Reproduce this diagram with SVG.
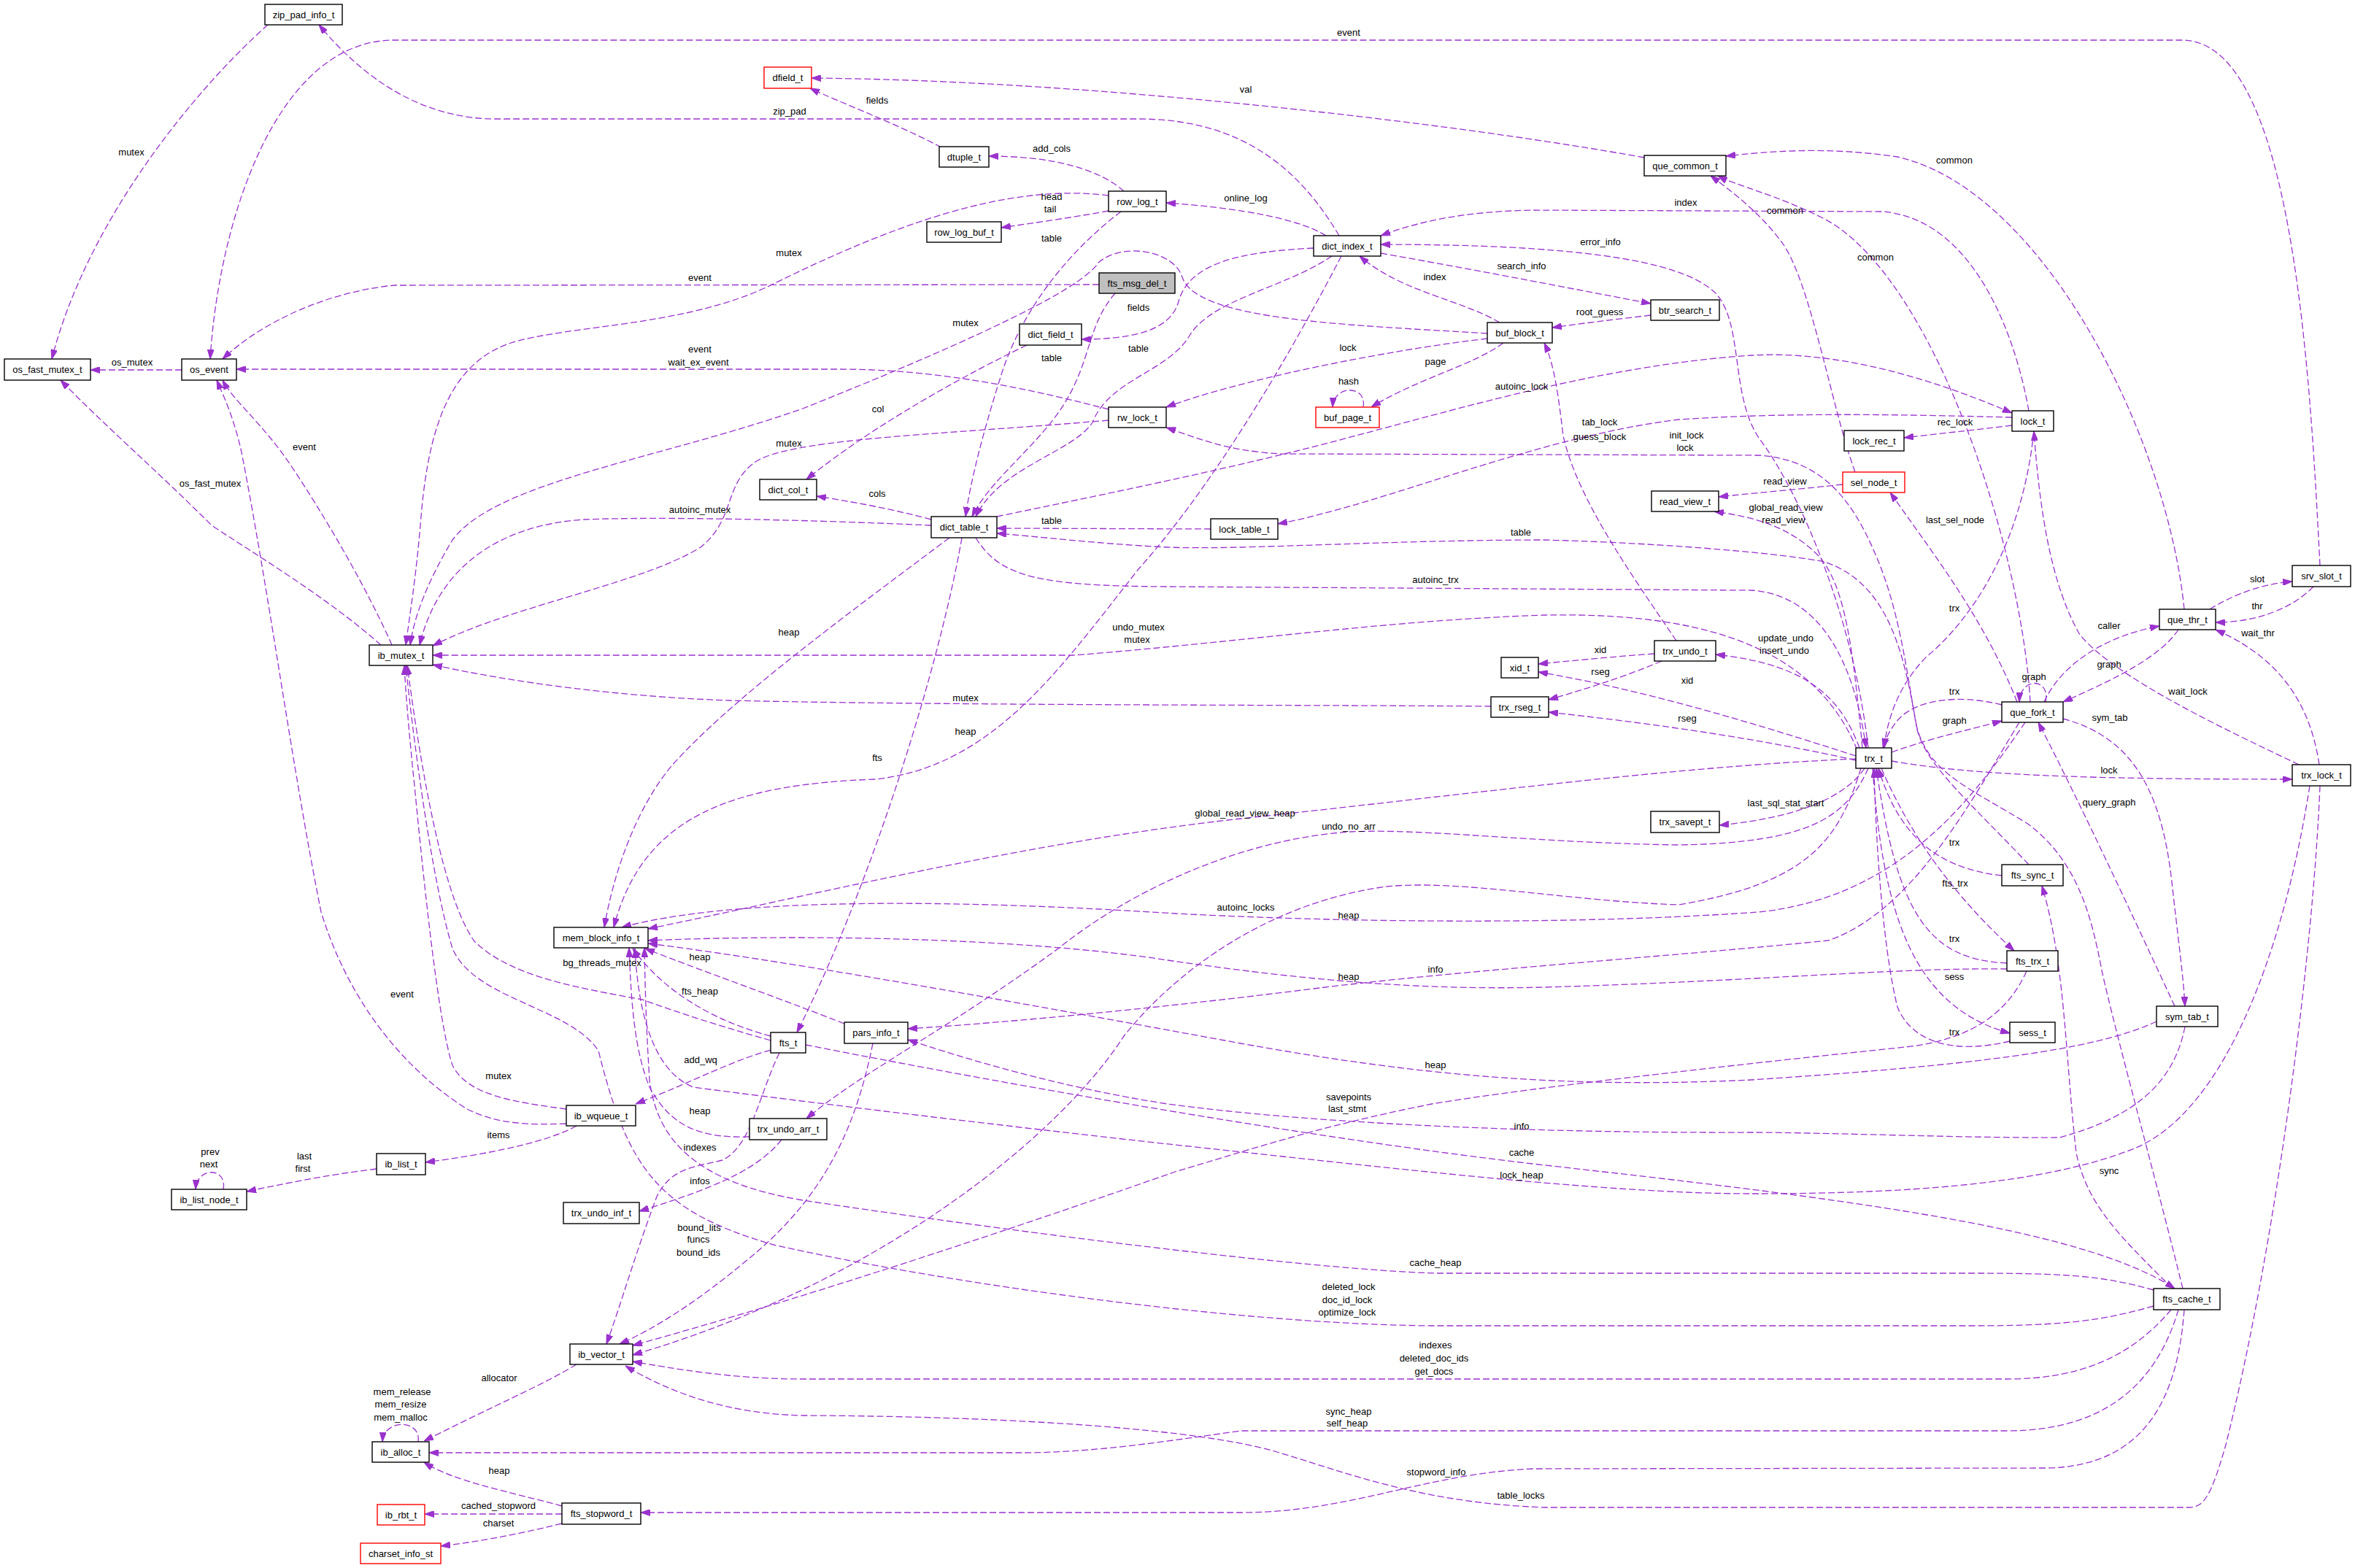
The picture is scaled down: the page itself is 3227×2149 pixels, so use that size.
<svg xmlns="http://www.w3.org/2000/svg" width="3227" height="2149" viewBox="0 0 3227 2149">
<style>
.n rect{fill:#fff;stroke:#000;stroke-width:1.4}
.r rect{fill:#fff;stroke:#ff0000;stroke-width:1.4}
.g rect{fill:#bfbfbf;stroke:#000;stroke-width:1.4}
text{font-family:"Liberation Sans",Arial,sans-serif;font-size:13px;text-anchor:middle;fill:#000}
.e path{fill:none;stroke:#9a32cd;stroke-width:1.3;stroke-dasharray:9,4;marker-end:url(#a)}
</style>
<defs>
<marker id="a" viewBox="0 0 13 9" refX="13" refY="4.5" markerWidth="13" markerHeight="9" markerUnits="userSpaceOnUse" orient="auto"><path d="M0,0 L13,4.5 L0,9 z" fill="#9a32cd" stroke="#9a32cd" stroke-width="1"/></marker>
</defs>
<rect width="3227" height="2149" fill="#fff"/>
<g id="connectors" class="e">
<path d="M367,34 C270,120 120,300 71,492"/>
<path d="M3179,775 C3165,500 3140,55 2990,55 L540,55 C380,55 300,300 288,492"/>
<path d="M1835,323 C1780,230 1700,163 1560,163 L680,163 C580,163 500,110 437,34"/>
<path d="M2253,216 C2000,170 1500,110 1112,107"/>
<path d="M1290,202 C1230,170 1150,140 1110,121"/>
<path d="M1540,262 C1510,235 1450,214 1355,214"/>
<path d="M1519,289 C1470,298 1420,305 1372,312"/>
<path d="M1536,290 C1470,340 1400,420 1370,520 C1345,600 1330,660 1323,708"/>
<path d="M1519,268 C1380,250 1220,310 1058,390 C940,448 780,445 700,470 C610,500 585,600 576,720 C570,790 562,840 556,884"/>
<path d="M1817,323 C1780,300 1700,285 1598,278"/>
<path d="M1506,390 L540,391 C450,400 360,440 305,492"/>
<path d="M2038,457 C1850,445 1640,440 1620,380 C1610,345 1540,330 1505,360 C1480,400 1300,480 1100,560 C900,630 680,660 620,740 C590,790 568,840 562,884"/>
<path d="M1800,340 C1700,345 1630,360 1615,413 C1605,450 1560,465 1482,465"/>
<path d="M1528,402 C1495,440 1495,480 1472,528 C1440,600 1360,650 1332,708"/>
<path d="M1825,351 C1760,395 1660,410 1630,460 C1600,510 1520,520 1497,579 C1470,620 1370,640 1337,708"/>
<path d="M1519,561 C1400,530 1280,506 1150,506 L324,506"/>
<path d="M1407,473 C1330,510 1200,580 1105,657"/>
<path d="M1519,576 C1300,595 1100,600 1040,630 C990,660 1010,710 960,750 C880,800 700,830 593,885"/>
<path d="M1276,712 C1220,697 1170,688 1119,680"/>
<path d="M1276,720 C1100,712 900,708 800,712 C680,720 600,780 575,884"/>
<path d="M1659,725 L1366,724"/>
<path d="M2780,563 C2760,450 2700,300 2580,290 L2100,288 C2000,290 1940,305 1892,323"/>
<path d="M2560,1025 C2540,850 2470,680 2410,600 C2370,540 2390,440 2349,400 C2300,355 2150,335 1892,335"/>
<path d="M1892,347 C2050,375 2150,395 2262,416"/>
<path d="M2055,442 C2000,410 1920,400 1863,351"/>
<path d="M2262,432 C2210,438 2170,443 2127,449"/>
<path d="M2038,464 C1900,480 1700,520 1598,558"/>
<path d="M2060,470 C2020,500 1940,520 1879,558"/>
<path d="M1868,558 C1874,528 1828,526 1826,558"/>
<path d="M1366,708 C1500,680 1700,640 1858,597 C2000,560 2200,500 2400,487 C2520,480 2650,520 2757,566"/>
<path d="M2757,572 C2600,568 2450,565 2300,575 C2100,600 1900,690 1751,718"/>
<path d="M2757,583 C2700,590 2650,595 2609,600"/>
<path d="M2297,878 C2230,780 2160,680 2142,597 C2135,540 2130,500 2116,470"/>
<path d="M2991,1766 C2950,1600 2900,1420 2880,1330 C2865,1250 2845,1180 2780,1130 C2700,1080 2640,1060 2625,990 C2610,900 2600,830 2570,760 C2540,690 2500,630 2410,624 L1755,622 C1680,618 1640,600 1598,586"/>
<path d="M2525,664 C2450,672 2400,676 2355,681"/>
<path d="M2552,1025 C2540,900 2530,800 2490,760 C2450,720 2400,708 2349,701"/>
<path d="M2764,962 C2720,850 2650,760 2590,675"/>
<path d="M2993,835 C2970,600 2800,260 2600,215 C2500,200 2420,208 2365,214"/>
<path d="M2782,962 C2770,750 2650,380 2500,300 C2430,265 2380,255 2354,241"/>
<path d="M2542,647 C2510,560 2480,380 2440,330 C2410,290 2370,260 2344,241"/>
<path d="M2787,591 C2770,750 2700,850 2640,900 C2600,940 2585,990 2582,1025"/>
<path d="M2743,966 C2680,950 2620,960 2598,990 C2590,1000 2584,1012 2580,1025"/>
<path d="M2592,1031 C2650,1010 2700,1000 2743,988"/>
<path d="M2803,962 C2810,928 2768,928 2767,962"/>
<path d="M2801,962 C2820,920 2870,875 2959,858"/>
<path d="M2985,863 C2960,900 2900,930 2827,962"/>
<path d="M3028,835 C3060,815 3100,800 3141,797"/>
<path d="M3170,804 C3140,835 3090,853 3036,853"/>
<path d="M3178,1048 C3165,960 3120,900 3036,863"/>
<path d="M3150,1048 C3050,1000 2900,930 2850,870 C2810,800 2795,700 2787,591"/>
<path d="M2592,1043 C2700,1062 2850,1068 3141,1068"/>
<path d="M2827,985 C2920,1010 2960,1080 2975,1200 C2985,1290 2992,1340 2994,1379"/>
<path d="M2980,1379 C2920,1250 2850,1100 2793,990"/>
<path d="M2543,1036 C2400,990 2250,945 2108,921"/>
<path d="M2267,896 C2210,900 2160,905 2108,910"/>
<path d="M2277,906 C2220,930 2170,945 2122,959"/>
<path d="M2543,1042 C2400,1010 2250,990 2122,976"/>
<path d="M2043,968 C1800,966 1300,967 1000,960 C850,955 700,935 593,911"/>
<path d="M2545,1028 C2480,870 2300,840 2117,843 C1900,850 1700,880 1472,898 L593,898"/>
<path d="M2548,1025 C2520,950 2470,910 2351,897"/>
<path d="M2555,1053 C2530,1090 2470,1120 2356,1131"/>
<path d="M2543,1040 C2300,1050 2000,1090 1700,1122 C1400,1155 1100,1230 888,1273"/>
<path d="M2560,1053 C2530,1120 2480,1155 2300,1158 C2100,1155 1950,1135 1850,1140 C1700,1150 1550,1220 1450,1300 C1300,1410 1180,1470 1105,1533"/>
<path d="M1337,737 C1370,790 1420,803 1600,804 L2400,809 C2490,815 2540,900 2557,1025"/>
<path d="M2743,1200 C2650,1190 2600,1140 2574,1053"/>
<path d="M2750,1320 C2640,1315 2600,1250 2571,1053"/>
<path d="M2578,1053 C2620,1150 2680,1230 2760,1303"/>
<path d="M2566,1053 C2580,1250 2620,1380 2754,1416"/>
<path d="M2754,1427 C2680,1445 2620,1430 2600,1380 C2580,1300 2570,1150 2568,1053"/>
<path d="M1104,1432 C1400,1490 1800,1560 2100,1595 C2500,1640 2850,1680 2980,1766"/>
<path d="M2977,1766 C2900,1690 2860,1650 2845,1580 C2830,1450 2830,1320 2798,1214"/>
<path d="M2951,1768 C2880,1748 2830,1745 2700,1745 L1967,1745 C1800,1740 1400,1690 1100,1645 C950,1620 900,1560 890,1480 C885,1400 884,1350 883,1299"/>
<path d="M2951,1790 C2880,1810 2830,1817 2700,1817 L1962,1817 C1700,1815 1300,1760 1060,1706 C900,1660 860,1600 820,1440 C780,1380 650,1370 620,1300 C590,1200 565,1000 556,912"/>
<path d="M2975,1795 C2920,1860 2850,1890 2750,1890 L1100,1890 C1000,1890 920,1875 867,1866"/>
<path d="M2985,1795 C2960,1880 2900,1961 2750,1961 L1700,1961 C1600,1975 1500,1991 1400,1991 L588,1991"/>
<path d="M2993,1795 C2985,1900 2950,2012 2800,2012 L2100,2013 C1950,2020 1850,2073 1700,2073 L878,2073"/>
<path d="M3179,1077 C3170,1300 3120,1700 3050,1980 C3030,2050 3020,2066 3000,2066 L2117,2066 C1950,2060 1850,2020 1750,1990 C1650,1960 1400,1941 1100,1940 C1000,1938 920,1910 857,1872"/>
<path d="M3165,1077 C3130,1300 3050,1520 2927,1573 C2800,1625 2600,1636 2400,1636 C2200,1636 1900,1600 1610,1569 C1400,1546 1100,1510 950,1490 C900,1470 875,1400 870,1300"/>
<path d="M2955,1400 C2870,1440 2700,1460 2400,1480 C2150,1492 1950,1475 1700,1430 C1400,1375 1100,1320 888,1293"/>
<path d="M2994,1407 C2980,1480 2930,1530 2822,1559 C2700,1560 2500,1552 2400,1552 C2100,1553 1800,1540 1600,1513 C1450,1490 1320,1450 1244,1425"/>
<path d="M2767,990 C2700,1100 2620,1250 2505,1289 C2300,1310 2000,1330 1800,1355 C1600,1380 1400,1400 1244,1410"/>
<path d="M2775,990 C2700,1100 2600,1230 2410,1250 C2200,1265 1900,1267 1610,1252 C1300,1232 1000,1230 852,1271"/>
<path d="M2550,1053 C2520,1150 2480,1210 2300,1240 C2150,1235 2000,1205 1900,1215 C1750,1235 1620,1320 1540,1420 C1450,1560 1200,1760 867,1857"/>
<path d="M2750,1328 C2600,1326 2400,1345 2117,1353 C1950,1357 1800,1345 1600,1316 C1400,1285 1100,1280 888,1289"/>
<path d="M2777,1331 C2750,1390 2700,1425 2611,1435 C2400,1457 2100,1490 1962,1513 C1800,1545 1700,1580 1610,1606 C1400,1680 1100,1780 867,1844"/>
<path d="M2780,1185 C2700,1100 2640,1050 2627,1000 C2610,900 2590,800 2500,770 C2450,760 2300,745 2117,740 C1900,740 1700,754 1600,750 C1500,745 1420,735 1366,731"/>
<path d="M1056,1439 C1000,1455 955,1480 871,1513"/>
<path d="M790,1543 C760,1560 697,1578 583,1593"/>
<path d="M776,1520 C700,1510 640,1500 620,1460 C600,1400 580,1200 568,1077 C560,1000 556,950 554,912"/>
<path d="M776,1540 C720,1542 680,1540 640,1520 C560,1470 480,1380 440,1250 C400,1050 370,820 331,620 C320,570 305,540 297,521"/>
<path d="M516,1602 C450,1610 400,1620 338,1633"/>
<path d="M306,1630 C312,1600 270,1598 268,1630"/>
<path d="M1071,1562 C1040,1600 990,1625 876,1660"/>
<path d="M1027,1558 C960,1560 920,1545 890,1490 C870,1440 865,1380 862,1299"/>
<path d="M1068,1443 C1040,1500 1030,1570 990,1590 C950,1600 920,1600 900,1640 C870,1720 850,1790 831,1842"/>
<path d="M1196,1430 C1170,1560 1120,1650 1020,1730 C960,1780 900,1820 849,1842"/>
<path d="M1157,1403 C1060,1365 960,1330 884,1300"/>
<path d="M1056,1420 C980,1400 910,1360 867,1300"/>
<path d="M1056,1426 C1000,1410 950,1395 880,1370 C800,1355 700,1340 650,1290 C600,1220 570,1000 558,912"/>
<path d="M1318,737 C1290,900 1200,1200 1092,1415"/>
<path d="M1301,737 C1150,850 1000,960 920,1050 C870,1110 840,1200 828,1271"/>
<path d="M1838,351 C1750,520 1650,680 1560,780 C1450,920 1360,1050 1200,1068 C1000,1075 880,1120 841,1271"/>
<path d="M790,1870 C740,1900 680,1925 581,1975"/>
<path d="M573,1976 C578,1945 526,1944 524,1976"/>
<path d="M770,2064 C700,2045 620,2030 581,2004"/>
<path d="M770,2075 L582,2075"/>
<path d="M770,2088 C700,2105 660,2112 604,2119"/>
<path d="M522,884 C450,820 350,760 290,720 C220,650 140,580 83,521"/>
<path d="M537,884 C500,800 440,700 400,640 C360,580 320,550 305,521"/>
<path d="M249,507 L124,507"/>
</g>
<g id="labels">
<text x="180" y="213">mutex</text>
<text x="1848" y="49">event</text>
<text x="1082" y="157">zip_pad</text>
<text x="1707" y="127">val</text>
<text x="1202" y="142">fields</text>
<text x="1441" y="208">add_cols</text>
<text x="1441" y="274">head</text>
<text x="1439" y="291">tail</text>
<text x="1441" y="331">table</text>
<text x="1081" y="351">mutex</text>
<text x="1707" y="276">online_log</text>
<text x="959" y="385">event</text>
<text x="1323" y="447">mutex</text>
<text x="1560" y="426">fields</text>
<text x="1441" y="495">table</text>
<text x="1560" y="482">table</text>
<text x="959" y="483">event</text>
<text x="957" y="501">wait_ex_event</text>
<text x="1203" y="565">col</text>
<text x="1081" y="612">mutex</text>
<text x="1202" y="681">cols</text>
<text x="959" y="703">autoinc_mutex</text>
<text x="1441" y="718">table</text>
<text x="2310" y="282">index</text>
<text x="2193" y="336">error_info</text>
<text x="2085" y="369">search_info</text>
<text x="1966" y="384">index</text>
<text x="2192" y="432">root_guess</text>
<text x="1847" y="481">lock</text>
<text x="1967" y="500">page</text>
<text x="1848" y="527">hash</text>
<text x="2085" y="534">autoinc_lock</text>
<text x="2192" y="583">tab_lock</text>
<text x="2679" y="583">rec_lock</text>
<text x="2192" y="603">guess_block</text>
<text x="2311" y="601">init_lock</text>
<text x="2309" y="618">lock</text>
<text x="2446" y="664">read_view</text>
<text x="2447" y="700">global_read_view</text>
<text x="2444" y="717">read_view</text>
<text x="2679" y="717">last_sel_node</text>
<text x="2678" y="224">common</text>
<text x="2570" y="357">common</text>
<text x="2446" y="293">common</text>
<text x="2678" y="838">trx</text>
<text x="2678" y="952">trx</text>
<text x="2678" y="992">graph</text>
<text x="2787" y="932">graph</text>
<text x="2890" y="862">caller</text>
<text x="2890" y="915">graph</text>
<text x="3093" y="798">slot</text>
<text x="3093" y="835">thr</text>
<text x="3094" y="872">wait_thr</text>
<text x="2998" y="952">wait_lock</text>
<text x="2890" y="1060">lock</text>
<text x="2891" y="988">sym_tab</text>
<text x="2890" y="1104">query_graph</text>
<text x="2312" y="937">xid</text>
<text x="2193" y="895">xid</text>
<text x="2193" y="925">rseg</text>
<text x="2312" y="989">rseg</text>
<text x="1323" y="961">mutex</text>
<text x="1560" y="864">undo_mutex</text>
<text x="1558" y="881">mutex</text>
<text x="2447" y="879">update_undo</text>
<text x="2445" y="896">insert_undo</text>
<text x="2447" y="1105">last_sql_stat_start</text>
<text x="1706" y="1119">global_read_view_heap</text>
<text x="1848" y="1137">undo_no_arr</text>
<text x="1967" y="799">autoinc_trx</text>
<text x="2678" y="1159">trx</text>
<text x="2678" y="1291">trx</text>
<text x="2679" y="1215">fts_trx</text>
<text x="2678" y="1343">sess</text>
<text x="2678" y="1419">trx</text>
<text x="2085" y="1584">cache</text>
<text x="2890" y="1609">sync</text>
<text x="1967" y="1735">cache_heap</text>
<text x="1848" y="1768">deleted_lock</text>
<text x="1846" y="1786">doc_id_lock</text>
<text x="1846" y="1803">optimize_lock</text>
<text x="1967" y="1848">indexes</text>
<text x="1965" y="1866">deleted_doc_ids</text>
<text x="1965" y="1884">get_docs</text>
<text x="1848" y="1939">sync_heap</text>
<text x="1846" y="1955">self_heap</text>
<text x="1968" y="2022">stopword_info</text>
<text x="2084" y="2054">table_locks</text>
<text x="2085" y="1615">lock_heap</text>
<text x="1967" y="1464">heap</text>
<text x="2085" y="1548">info</text>
<text x="1967" y="1333">info</text>
<text x="1848" y="1259">heap</text>
<text x="1707" y="1248">autoinc_locks</text>
<text x="1848" y="1343">heap</text>
<text x="1848" y="1508">savepoints</text>
<text x="1846" y="1524">last_stmt</text>
<text x="2084" y="734">table</text>
<text x="960" y="1457">add_wq</text>
<text x="683" y="1560">items</text>
<text x="683" y="1479">mutex</text>
<text x="551" y="1367">event</text>
<text x="417" y="1589">last</text>
<text x="415" y="1606">first</text>
<text x="288" y="1583">prev</text>
<text x="286" y="1600">next</text>
<text x="959" y="1623">infos</text>
<text x="959" y="1527">heap</text>
<text x="959" y="1577">indexes</text>
<text x="958" y="1687">bound_lits</text>
<text x="957" y="1703">funcs</text>
<text x="957" y="1721">bound_ids</text>
<text x="959" y="1316">heap</text>
<text x="959" y="1363">fts_heap</text>
<text x="825" y="1324">bg_threads_mutex</text>
<text x="1202" y="1043">fts</text>
<text x="1081" y="871">heap</text>
<text x="1323" y="1007">heap</text>
<text x="684" y="1893">allocator</text>
<text x="551" y="1912">mem_release</text>
<text x="549" y="1929">mem_resize</text>
<text x="549" y="1947">mem_malloc</text>
<text x="684" y="2020">heap</text>
<text x="683" y="2068">cached_stopword</text>
<text x="683" y="2092">charset</text>
<text x="288" y="667">os_fast_mutex</text>
<text x="417" y="617">event</text>
<text x="181" y="501">os_mutex</text>
</g>
<g id="n_zip_pad_info_t" class="n"><rect x="363" y="6" width="106" height="28"/><text x="416" y="24.5">zip_pad_info_t</text></g>
<g id="n_dfield_t" class="r"><rect x="1047" y="92" width="65" height="29"/><text x="1079.5" y="111">dfield_t</text></g>
<g id="n_dtuple_t" class="n"><rect x="1287" y="201" width="68" height="28"/><text x="1321" y="219.5">dtuple_t</text></g>
<g id="n_row_log_t" class="n"><rect x="1519" y="262" width="79" height="28"/><text x="1558.5" y="280.5">row_log_t</text></g>
<g id="n_row_log_buf_t" class="n"><rect x="1270" y="304" width="102" height="28"/><text x="1321" y="322.5">row_log_buf_t</text></g>
<g id="n_fts_msg_del_t" class="g"><rect x="1506" y="374" width="104" height="28"/><text x="1558" y="392.5">fts_msg_del_t</text></g>
<g id="n_dict_field_t" class="n"><rect x="1397" y="444" width="85" height="29"/><text x="1439.5" y="463">dict_field_t</text></g>
<g id="n_os_fast_mutex_t" class="n"><rect x="6" y="492" width="118" height="29"/><text x="65" y="511">os_fast_mutex_t</text></g>
<g id="n_os_event" class="n"><rect x="249" y="492" width="75" height="29"/><text x="286.5" y="511">os_event</text></g>
<g id="n_rw_lock_t" class="n"><rect x="1519" y="558" width="79" height="28"/><text x="1558.5" y="576.5">rw_lock_t</text></g>
<g id="n_dict_col_t" class="n"><rect x="1041" y="657" width="78" height="28"/><text x="1080" y="675.5">dict_col_t</text></g>
<g id="n_dict_table_t" class="n"><rect x="1276" y="708" width="90" height="29"/><text x="1321" y="727">dict_table_t</text></g>
<g id="n_dict_index_t" class="n"><rect x="1800" y="323" width="92" height="28"/><text x="1846" y="341.5">dict_index_t</text></g>
<g id="n_que_common_t" class="n"><rect x="2253" y="213" width="112" height="28"/><text x="2309" y="231.5">que_common_t</text></g>
<g id="n_btr_search_t" class="n"><rect x="2262" y="411" width="94" height="28"/><text x="2309" y="429.5">btr_search_t</text></g>
<g id="n_buf_block_t" class="n"><rect x="2038" y="442" width="89" height="28"/><text x="2082.5" y="460.5">buf_block_t</text></g>
<g id="n_buf_page_t" class="r"><rect x="1803" y="558" width="87" height="28"/><text x="1846.5" y="576.5">buf_page_t</text></g>
<g id="n_read_view_t" class="n"><rect x="2263" y="673" width="92" height="28"/><text x="2309" y="691.5">read_view_t</text></g>
<g id="n_lock_table_t" class="n"><rect x="1659" y="711" width="92" height="28"/><text x="1705" y="729.5">lock_table_t</text></g>
<g id="n_lock_t" class="n"><rect x="2757" y="563" width="57" height="28"/><text x="2785.5" y="581.5">lock_t</text></g>
<g id="n_lock_rec_t" class="n"><rect x="2527" y="590" width="82" height="28"/><text x="2568" y="608.5">lock_rec_t</text></g>
<g id="n_sel_node_t" class="r"><rect x="2525" y="647" width="85" height="28"/><text x="2567.5" y="665.5">sel_node_t</text></g>
<g id="n_srv_slot_t" class="n"><rect x="3141" y="775" width="80" height="29"/><text x="3181" y="794">srv_slot_t</text></g>
<g id="n_que_thr_t" class="n"><rect x="2959" y="835" width="77" height="28"/><text x="2997.5" y="853.5">que_thr_t</text></g>
<g id="n_que_fork_t" class="n"><rect x="2743" y="962" width="84" height="28"/><text x="2785" y="980.5">que_fork_t</text></g>
<g id="n_trx_t" class="n"><rect x="2543" y="1025" width="49" height="28"/><text x="2567.5" y="1043.5">trx_t</text></g>
<g id="n_trx_lock_t" class="n"><rect x="3141" y="1048" width="80" height="29"/><text x="3181" y="1067">trx_lock_t</text></g>
<g id="n_fts_sync_t" class="n"><rect x="2743" y="1185" width="84" height="29"/><text x="2785" y="1204">fts_sync_t</text></g>
<g id="n_fts_trx_t" class="n"><rect x="2750" y="1303" width="70" height="28"/><text x="2785" y="1321.5">fts_trx_t</text></g>
<g id="n_sym_tab_t" class="n"><rect x="2955" y="1379" width="84" height="28"/><text x="2997" y="1397.5">sym_tab_t</text></g>
<g id="n_sess_t" class="n"><rect x="2754" y="1401" width="62" height="28"/><text x="2785" y="1419.5">sess_t</text></g>
<g id="n_trx_undo_t" class="n"><rect x="2267" y="878" width="84" height="28"/><text x="2309" y="896.5">trx_undo_t</text></g>
<g id="n_xid_t" class="n"><rect x="2057" y="901" width="51" height="28"/><text x="2082.5" y="919.5">xid_t</text></g>
<g id="n_trx_rseg_t" class="n"><rect x="2043" y="955" width="79" height="28"/><text x="2082.5" y="973.5">trx_rseg_t</text></g>
<g id="n_trx_savept_t" class="n"><rect x="2262" y="1112" width="94" height="29"/><text x="2309" y="1131">trx_savept_t</text></g>
<g id="n_ib_mutex_t" class="n"><rect x="506" y="884" width="87" height="28"/><text x="549.5" y="902.5">ib_mutex_t</text></g>
<g id="n_mem_block_info_t" class="n"><rect x="759" y="1271" width="129" height="28"/><text x="823.5" y="1289.5">mem_block_info_t</text></g>
<g id="n_fts_t" class="n"><rect x="1056" y="1415" width="48" height="28"/><text x="1080" y="1433.5">fts_t</text></g>
<g id="n_pars_info_t" class="n"><rect x="1157" y="1401" width="87" height="29"/><text x="1200.5" y="1420">pars_info_t</text></g>
<g id="n_ib_wqueue_t" class="n"><rect x="776" y="1515" width="95" height="28"/><text x="823.5" y="1533.5">ib_wqueue_t</text></g>
<g id="n_trx_undo_arr_t" class="n"><rect x="1027" y="1533" width="106" height="29"/><text x="1080" y="1552">trx_undo_arr_t</text></g>
<g id="n_trx_undo_inf_t" class="n"><rect x="772" y="1648" width="104" height="29"/><text x="824" y="1667">trx_undo_inf_t</text></g>
<g id="n_ib_vector_t" class="n"><rect x="781" y="1842" width="86" height="28"/><text x="824" y="1860.5">ib_vector_t</text></g>
<g id="n_fts_stopword_t" class="n"><rect x="770" y="2060" width="108" height="29"/><text x="824" y="2079">fts_stopword_t</text></g>
<g id="n_ib_list_t" class="n"><rect x="516" y="1581" width="67" height="29"/><text x="549.5" y="1600">ib_list_t</text></g>
<g id="n_ib_list_node_t" class="n"><rect x="235" y="1630" width="103" height="28"/><text x="286.5" y="1648.5">ib_list_node_t</text></g>
<g id="n_ib_alloc_t" class="n"><rect x="510" y="1976" width="78" height="28"/><text x="549" y="1994.5">ib_alloc_t</text></g>
<g id="n_ib_rbt_t" class="r"><rect x="517" y="2062" width="65" height="28"/><text x="549.5" y="2080.5">ib_rbt_t</text></g>
<g id="n_charset_info_st" class="r"><rect x="494" y="2115" width="110" height="28"/><text x="549" y="2133.5">charset_info_st</text></g>
<g id="n_fts_cache_t" class="n"><rect x="2951" y="1766" width="91" height="29"/><text x="2996.5" y="1785">fts_cache_t</text></g>
</svg>
